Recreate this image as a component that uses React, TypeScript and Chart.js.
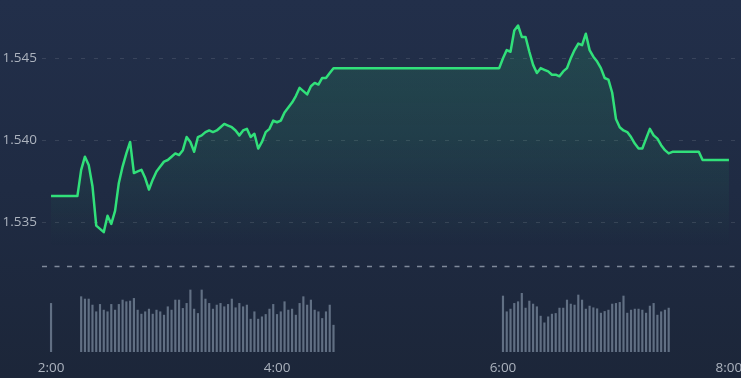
import { useEffect, useRef } from "react";
import { Chart, registerables } from "chart.js";

Chart.register(...registerables);

// minutes between samples, starting 2:00
const STEP_MINUTES = 2;

// price per 2-minute sample, 2:00 → 8:00 (181 samples)
const prices = [
  1.5366, 1.5366, 1.5366, 1.5366, 1.5366, 1.5366, 1.5366, 1.5366,
  1.5382, 1.5390, 1.5385, 1.5372, 1.5348, 1.5346, 1.5344, 1.5354,
  1.5349, 1.5357, 1.5374, 1.5384, 1.5392, 1.5399, 1.5380, 1.5381,
  1.5382, 1.5377, 1.5370, 1.5376, 1.5381, 1.5384, 1.5387, 1.5388,
  1.5390, 1.5392, 1.5391, 1.5394, 1.5402, 1.5399, 1.5393, 1.5402,
  1.5403, 1.5405, 1.5406, 1.5405, 1.5406, 1.5408, 1.5410, 1.5409,
  1.5408, 1.5406, 1.5403, 1.5406, 1.5407, 1.5402, 1.5404, 1.5395,
  1.5399, 1.5405, 1.5407, 1.5412, 1.5411, 1.5412, 1.5417, 1.5420,
  1.5423, 1.5427, 1.5432, 1.5430, 1.5428, 1.5433, 1.5435, 1.5434,
  1.5438, 1.5438, 1.5441,
  1.5444, 1.5444, 1.5444, 1.5444, 1.5444, 1.5444, 1.5444, 1.5444, 1.5444,
  1.5444, 1.5444, 1.5444, 1.5444, 1.5444, 1.5444, 1.5444, 1.5444, 1.5444,
  1.5444, 1.5444, 1.5444, 1.5444, 1.5444, 1.5444, 1.5444, 1.5444, 1.5444,
  1.5444, 1.5444, 1.5444, 1.5444, 1.5444, 1.5444, 1.5444, 1.5444, 1.5444,
  1.5444, 1.5444, 1.5444, 1.5444, 1.5444, 1.5444, 1.5444, 1.5444, 1.5444,
  1.5450, 1.5455, 1.5454, 1.5467, 1.5470, 1.5463, 1.5463, 1.5454,
  1.5446, 1.5441, 1.5444, 1.5443, 1.5442, 1.5440, 1.5440, 1.5439,
  1.5442, 1.5444, 1.5450, 1.5455, 1.5459, 1.5458, 1.5465, 1.5455,
  1.5451, 1.5448, 1.5444, 1.5438, 1.5437, 1.5429, 1.5413, 1.5408,
  1.5406, 1.5405, 1.5402, 1.5398, 1.5395, 1.5395, 1.5401, 1.5407,
  1.5403, 1.5401, 1.5397, 1.5394, 1.5392,
  1.5393, 1.5393, 1.5393, 1.5393, 1.5393, 1.5393, 1.5393, 1.5393,
  1.5388, 1.5388, 1.5388, 1.5388, 1.5388, 1.5388, 1.5388, 1.5388,
];

// volume: a single print at 2:00, then two sessions
const volumeOpenIndex = 0;
const volumeOpen = [145];
const session1StartIndex = 8;
const volumeSession1 = [
  165, 158, 158, 140, 120, 142, 125, 120, 142, 125, 142, 155, 150, 152, 160, 125,
  113, 120, 128, 113, 125, 120, 110, 135, 125, 155, 155, 130, 145, 185, 128, 115,
  185, 158, 145, 128, 140, 145, 135, 142, 158, 132, 145, 135, 140, 98, 120, 98,
  105, 112, 128, 142, 112, 120, 150, 125, 128, 110, 145, 165, 140, 155, 125, 120,
  100, 120, 140, 80,
];
const session2StartIndex = 120;
const volumeSession2 = [
  167, 120, 128, 145, 150, 175, 131, 152, 143, 135, 107, 87, 105, 113, 115, 131,
  131, 155, 143, 140, 170, 155, 128, 137, 132, 129, 116, 121, 125, 143, 145, 148,
  167, 116, 125, 128, 128, 125, 116, 137, 145, 110, 120, 125, 131,
];

const timeTickMinutes = [0, 120, 240, 360];
const timeTickLabels = ["2:00", "4:00", "6:00", "8:00"];
const priceTicks = [1.535, 1.54, 1.545];
const referencePrice = 1.53235;

const FONT = "'Open Sans', sans-serif";

export default function App() {
  const canvasRef = useRef<HTMLCanvasElement | null>(null);

  useEffect(() => {
    document.body.style.margin = "0";
    const canvas = canvasRef.current;
    if (!canvas) return;

    const linePoints = prices.map((p, i) => ({ x: i * STEP_MINUTES, y: p }));
    const volumePoints = [
      ...volumeOpen.map((v, i) => ({ x: (volumeOpenIndex + i) * STEP_MINUTES, y: v })),
      ...volumeSession1.map((v, i) => ({ x: (session1StartIndex + i) * STEP_MINUTES, y: v })),
      ...volumeSession2.map((v, i) => ({ x: (session2StartIndex + i) * STEP_MINUTES, y: v })),
    ];

    const refLinePlugin = {
      id: "refLine",
      beforeDatasetsDraw(chart: any) {
        const ys = chart.scales.y;
        const { left, right } = chart.chartArea;
        const y = Math.round(ys.getPixelForValue(referencePrice)) + 0.5;
        const ctx = chart.ctx;
        ctx.save();
        ctx.setLineDash([5, 7.5]);
        ctx.strokeStyle = "rgba(160,170,185,0.75)";
        ctx.lineWidth = 1.5;
        ctx.beginPath();
        ctx.moveTo(left, y);
        ctx.lineTo(right, y);
        ctx.stroke();
        ctx.restore();
      },
    };

    const chart = new Chart(canvas, {
      type: "line",
      data: {
        datasets: [
          {
            type: "line",
            data: linePoints,
            yAxisID: "y",
            borderColor: "#31e07a",
            borderWidth: 2.5,
            pointRadius: 0,
            tension: 0,
            borderJoinStyle: "round",
            fill: "start",
            backgroundColor: (c: any) => {
              const ch = c.chart;
              if (!ch.chartArea || !ch.scales.y) return "rgba(0,0,0,0)";
              const ys = ch.scales.y;
              const g = ch.ctx.createLinearGradient(0, ys.getPixelForValue(1.547), 0, ys.getPixelForValue(1.5335));
              g.addColorStop(0, "rgba(46,204,113,0.17)");
              g.addColorStop(0.5, "rgba(46,204,113,0.11)");
              g.addColorStop(1, "rgba(46,204,113,0)");
              return g;
            },
            order: 1,
          } as any,
          {
            type: "bar",
            data: volumePoints,
            yAxisID: "v",
            backgroundColor: "rgba(115,130,150,0.8)",
            barThickness: 1.5,
            order: 2,
          } as any,
        ],
      },
      options: {
        animation: false,
        responsive: false,
        maintainAspectRatio: false,
        layout: { padding: 0 },
        plugins: { legend: { display: false }, tooltip: { enabled: false } },
        scales: {
          x: {
            type: "linear",
            offset: false,
            min: -4.8,
            max: 366.4,
            afterBuildTicks: (s: any) => {
              s.ticks = timeTickMinutes.map((v) => ({ value: v }));
            },
            ticks: {
              autoSkip: false,
              maxRotation: 0,
              padding: 0,
              color: "#acb3be",
              font: { family: FONT, size: 13.5 },
              callback: (v: any) => {
                const i = timeTickMinutes.indexOf(Number(v));
                return i >= 0 ? timeTickLabels[i] : "";
              },
            },
            grid: { display: false, offset: false },
            border: { display: false },
            afterFit: (s: any) => {
              s.height = 26;
              s.paddingLeft = 0;
              s.paddingRight = 0;
            },
          },
          y: {
            position: "left",
            min: 1.527092,
            max: 1.548555,
            afterBuildTicks: (s: any) => {
              s.ticks = priceTicks.map((v) => ({ value: v }));
            },
            ticks: {
              padding: 5,
              color: "#acb3be",
              font: { family: FONT, size: 13.5 },
              callback: (v: any) => Number(v).toFixed(3),
            },
            grid: { color: "rgba(255,255,255,0.11)", drawTicks: false, lineWidth: 1 },
            border: { display: false, dash: [4, 9] },
            afterFit: (s: any) => {
              s.width = 42;
              s.paddingTop = 0;
              s.paddingBottom = 0;
            },
          },
          v: {
            display: false,
            min: 0,
            max: 1050,
          },
        },
      } as any,
      plugins: [refLinePlugin],
    });

    return () => chart.destroy();
  }, []);

  return (
    <div
      style={{
        position: "absolute",
        left: 0,
        top: 0,
        width: 741,
        height: 378,
        background: "linear-gradient(180deg, #222f4a 0%, #1f2b43 50%, #1c2639 100%)",
      }}
    >
      <canvas ref={canvasRef} width={741} height={378} style={{ display: "block" }} />
    </div>
  );
}
